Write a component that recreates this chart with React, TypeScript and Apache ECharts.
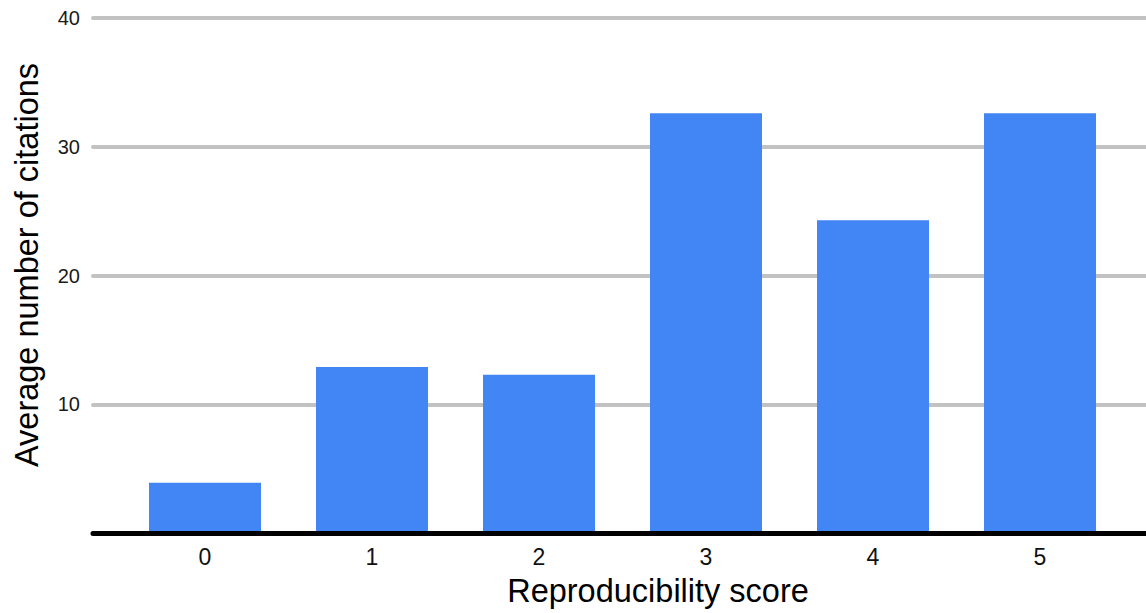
import React, { useEffect, useRef } from "react";
import * as echarts from "echarts";

const categories = ["0", "1", "2", "3", "4", "5"];
const avgCitations = [3.9, 12.9, 12.3, 32.6, 24.3, 32.6];
const yTicks = { min: 0, max: 40, interval: 10 };
const xTitle = "Reproducibility score";
const yTitle = "Average number of citations";

const FONT = "Arial, 'Liberation Sans', sans-serif";

export default function App() {
  const ref = useRef<HTMLDivElement>(null);
  useEffect(() => {
    if (!ref.current) return;
    const chart = echarts.init(ref.current, undefined, { renderer: "svg" });
    chart.setOption({
      animation: false,
      backgroundColor: "#ffffff",
      textStyle: { fontFamily: FONT },
      grid: [
        { left: 93, right: 0, top: 18, bottom: 80 },
        { left: 121.5, right: 22.5, top: 18, bottom: 80 },
      ],
      xAxis: [
        {
          type: "value",
          gridIndex: 0,
          min: 0,
          max: 1,
          axisLine: { show: true, lineStyle: { color: "#000000", width: 5, cap: "round" } },
          axisTick: { show: false },
          axisLabel: { show: false },
          splitLine: { show: false },
          z: 5,
        },
        {
          type: "category",
          gridIndex: 1,
          data: categories,
          axisLine: { show: false },
          axisTick: { show: false },
          axisLabel: {
            show: true,
            color: "#111111",
            margin: 12,
            fontSize: 23,
          },
          splitLine: { show: false },
        },
      ],
      yAxis: [
        {
          type: "value",
          gridIndex: 0,
          min: yTicks.min,
          max: yTicks.max,
          interval: yTicks.interval,
          axisLine: { show: false },
          axisTick: { show: false },
          axisLabel: {
            show: true,
            color: "#1a1a1a",
            margin: 13,
            fontSize: 20,
            formatter: (v: number) => (v === 0 ? "" : String(v)),
          },
          splitLine: { show: true, lineStyle: { color: "#c2c2c2", width: 4, cap: "round" } },
        },
        {
          type: "value",
          gridIndex: 1,
          min: yTicks.min,
          max: yTicks.max,
          interval: yTicks.interval,
          show: false,
        },
      ],
      series: [
        {
          type: "bar",
          xAxisIndex: 1,
          yAxisIndex: 1,
          data: avgCitations,
          barWidth: 112,
          itemStyle: { color: "#4285f4" },
        },
      ],
      graphic: [
        {
          type: "text",
          x: 658,
          y: 591,
          style: {
            text: xTitle,
            fontSize: 32.5,
            fontFamily: FONT,
            fill: "#000000",
            align: "center",
            verticalAlign: "middle",
          },
        },
        {
          type: "text",
          x: 27,
          y: 265,
          rotation: Math.PI / 2,
          style: {
            text: yTitle,
            fontSize: 32.5,
            fontFamily: FONT,
            fill: "#000000",
            align: "center",
            verticalAlign: "middle",
          },
        },
      ],
    });
    return () => chart.dispose();
  }, []);
  return (
    <div
      ref={ref}
      style={{ position: "fixed", left: 0, top: 0, width: 1146, height: 613 }}
    />
  );
}
